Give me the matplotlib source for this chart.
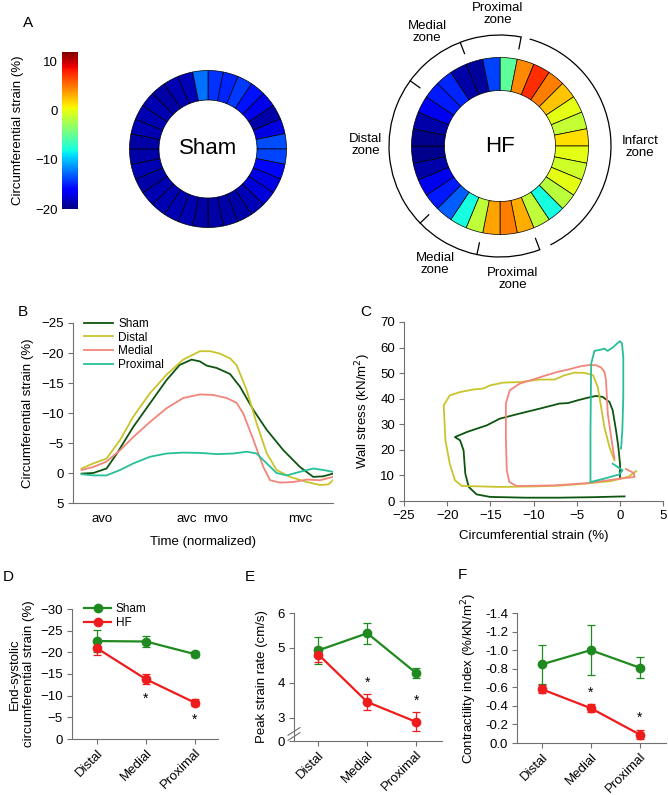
import numpy as np
import matplotlib
matplotlib.use("Agg")
import matplotlib.pyplot as plt
from matplotlib import cm, colors
from matplotlib.lines import Line2D
from matplotlib.patches import Wedge, Arc

plt.rcParams['font.family'] = ['Liberation Sans', 'DejaVu Sans']
plt.rcParams['axes.linewidth'] = 0.8

W, H = 668, 795

# =========================
# data
# =========================
# A) segmental end-systolic strain, 32 segments clockwise from 12 o'clock
sham_seg = [-14.4, -14.8, -14.2, -15.4, -17.0, -18.8, -17.2, -13.6,
            -13.8, -15.8, -17.2, -17.4, -18.4, -18.8, -18.8, -19.0,
            -19.0, -18.6, -18.6, -18.6, -18.6, -18.8, -18.6, -18.8,
            -19.0, -18.6, -18.6, -18.6, -19.0, -18.6, -18.4, -12.4]
hf_seg = [-5.2, 4.4, 7.6, 4.8, 2.4, 0.0, -1.2, 1.6,
          0.0, -0.8, 0.0, -1.6, -8.0, -1.4, 3.2, 4.8,
          3.6, -1.4, -8.0, -13.1, -15.2, -16.8, -18.8, -19.6,
          -19.6, -18.8, -16.8, -15.2, -14.8, -18.8, -19.2, -14.0]
zone_ticks = [79, 111, 144, 224, 258, 291]   # deg, boundaries on the outer arc
zone_labels = ["Proximal\nzone", "Medial\nzone", "Distal\nzone", "Infarct\nzone",
               "Medial\nzone", "Proximal\nzone"]

# B) strain vs normalized time
t_sham = [0.033, 0.078, 0.129, 0.168, 0.232, 0.296, 0.36, 0.41, 0.456, 0.488, 0.514,
          0.553, 0.604, 0.642, 0.694, 0.745, 0.809, 0.873, 0.924, 0.963, 1.0]
s_sham = [0.1, 0.0, -0.75, -3.2, -7.7, -11.6, -15.5, -18.0, -18.9, -18.6, -17.9,
          -17.5, -16.5, -14.4, -10.5, -7.2, -3.8, -1.0, 0.65, 0.55, 0.1]
t_distal = [0.033, 0.078, 0.129, 0.181, 0.232, 0.296, 0.36, 0.424, 0.488, 0.527, 0.565,
            0.604, 0.629, 0.668, 0.706, 0.745, 0.783, 0.835, 0.899, 0.95, 0.982, 1.0]
s_distal = [-0.75, -1.6, -2.4, -5.5, -9.4, -13.3, -16.4, -18.9, -20.3, -20.3, -19.9,
            -19.1, -18.0, -13.8, -8.3, -3.3, -0.5, 0.65, 1.5, 2.0, 1.9, 1.2]
t_medial = [0.033, 0.078, 0.129, 0.181, 0.232, 0.296, 0.36, 0.424, 0.488, 0.54, 0.591,
            0.629, 0.655, 0.694, 0.732, 0.758, 0.796, 0.847, 0.899, 0.95, 1.0]
s_medial = [-0.5, -1.0, -1.9, -3.8, -6.0, -8.5, -10.8, -12.5, -13.1, -13.0, -12.5,
            -11.7, -9.9, -5.5, -1.0, 1.2, 1.6, 1.5, 1.1, 1.2, 0.65]
t_prox = [0.033, 0.078, 0.129, 0.181, 0.232, 0.296, 0.36, 0.424, 0.488, 0.553, 0.617,
          0.668, 0.706, 0.745, 0.783, 0.822, 0.873, 0.924, 0.963, 1.0]
s_prox = [0.2, 0.4, 0.4, -0.5, -1.6, -2.7, -3.25, -3.4, -3.35, -3.15, -3.25,
          -3.55, -3.25, -1.6, 0.0, 0.4, -0.2, -0.75, -0.5, -0.2]
event_pos = [0.11, 0.437, 0.55, 0.873]
event_lab = ["avo", "avc", "mvo", "mvc"]

# C) stress-strain loops
c_sham_x = [0.55, -3.0, -7.0, -11.0, -15.05, -16.6, -17.5, -17.9, -18.1, -18.5, -19.1,
            -17.7, -15.4, -13.9, -11.6, -9.3, -7.0, -6.0, -4.87, -3.7, -2.75, -1.98,
            -1.2, -0.83, -0.44, -0.17, 0.02, 0.02]
c_sham_y = [1.8, 1.5, 1.3, 1.3, 1.6, 2.6, 5.5, 10.7, 19.8, 23.7, 25.0,
            27.0, 29.6, 32.2, 34.2, 36.1, 38.1, 38.3, 39.4, 40.4, 41.1, 40.7,
            38.7, 35.5, 27.6, 21.1, 14.6, 8.8]
c_distal_x = [1.9, 1.0, -1.0, -4.0, -7.0, -10.0, -13.9, -18.3, -19.1, -19.7, -20.2, -20.4,
              -19.7, -18.5, -17.0, -15.8, -15.05, -13.5, -11.6, -9.3, -7.55, -6.4, -5.25,
              -4.1, -3.1, -2.56, -2.17, -1.79, -1.2, -0.63]
c_distal_y = [11.7, 9.5, 7.8, 6.8, 6.0, 5.7, 5.5, 5.9, 8.1, 14.6, 23.7, 37.4,
              41.3, 42.6, 43.6, 44.0, 45.2, 46.3, 46.5, 47.5, 47.5, 49.2, 50.2,
              50.1, 49.2, 44.6, 36.8, 28.9, 21.1, 15.9]
c_medial_x = [0.7, 1.6, 1.7, 0.1, -3.7, -7.6, -11.0, -12.0, -12.8, -13.1, -13.2, -13.2,
              -12.75, -11.6, -10.06, -8.5, -7.2, -6.0, -4.5, -3.5, -2.75, -2.17, -1.79,
              -1.6, -1.4, -1.0, -0.63]
c_medial_y = [12.5, 11.0, 9.4, 8.8, 7.0, 6.1, 5.9, 5.9, 7.5, 12.0, 25.0, 38.1,
              43.3, 45.9, 47.5, 49.2, 50.5, 51.4, 52.7, 53.2, 53.1, 52.2, 50.5,
              47.2, 34.2, 25.0, 16.6]
c_prox_x = [-0.83, -0.25, 0.32, -0.06, -1.79, -3.4, -3.4, -3.32, -2.94, -2.17, -1.79,
            -1.41, -0.83, -0.25, 0.02, 0.25, 0.4, 0.4, 0.29, 0.14]
c_prox_y = [14.6, 13.3, 12.0, 10.4, 8.76, 7.4, 27.6, 53.7, 58.7, 59.2, 59.6,
            58.7, 60.0, 61.8, 62.5, 61.6, 56.3, 40.7, 27.6, 20.5]

# D/E/F) regional summaries, mean and SEM
regions = ["Distal", "Medial", "Proximal"]
d_sham, d_sham_err = [-22.6, -22.5, -19.6], [2.6, 1.35, 0.65]
d_hf, d_hf_err = [-20.9, -13.8, -8.4], [1.6, 1.15, 0.8]
d_star = [(1, -9.2), (2, -4.5)]
e_sham, e_sham_err = [4.93, 5.42, 4.28], [0.38, 0.3, 0.15]
e_hf, e_hf_err = [4.81, 3.45, 2.88], [0.22, 0.23, 0.27]
e_star = [(1, 3.99), (2, 3.48)]
f_sham, f_sham_err = [-0.846, -1.0, -0.81], [0.21, 0.27, 0.115]
f_hf, f_hf_err = [-0.58, -0.375, -0.09], [0.04, 0.045, 0.05]
f_star = [(1, -0.54), (2, -0.27)]

# =========================
# colours
# =========================
C_SHAM = "#0d560f"
C_DIST = "#c9c42c"
C_MED = "#f2857c"
C_PROX = "#27bf98"
G_SHAM = "#1f8a1f"
R_HF = "#ee1c1c"
SPINE = "#707070"
TICK_FS = 9.5
LAB_FS = 9.5

cmap = plt.get_cmap("jet")
norm = colors.Normalize(vmin=-20, vmax=12)

fig = plt.figure(figsize=(W / 100, H / 100), dpi=100)


def add_ax(x0, y0, x1, y1):
    # pixel box (top-left origin) -> figure fraction
    return fig.add_axes([x0 / W, 1 - y1 / H, (x1 - x0) / W, (y1 - y0) / H])


def style(ax):
    for s in ["top", "right"]:
        ax.spines[s].set_visible(False)
    for s in ["left", "bottom"]:
        ax.spines[s].set_color(SPINE)
    ax.tick_params(direction="out", length=3.5, width=0.8, color=SPINE,
                   labelsize=TICK_FS, pad=3)


# =========================
# A) rings
# =========================
axA = add_ax(0, 0, W, 300)
axA.set_xlim(0, W)
axA.set_ylim(0, 300)   # y up, so py -> 300 - py
axA.axis("off")


def ring(cx, cy, r_out, r_in, vals):
    step = 360 / len(vals)
    for i, v in enumerate(vals):
        t2 = 90 - i * step
        axA.add_patch(Wedge((cx, cy), r_out, t2 - step, t2, width=r_out - r_in,
                            facecolor=cmap(norm(v)), edgecolor="black", lw=0.5))


ring(208, 300 - 149, 78.5, 49, sham_seg)
axA.text(208, 300 - 149, "Sham", ha="center", va="center", fontsize=16)

hx, hy = 500, 300 - 146
ring(hx, hy, 88.5, 55.5, hf_seg)
axA.text(hx, hy, "HF", ha="center", va="center", fontsize=16)

R_ARC = 111
axA.add_patch(Arc((hx, hy), 2 * R_ARC, 2 * R_ARC, theta1=zone_ticks[0],
                  theta2=zone_ticks[-1], lw=0.9))
axA.add_patch(Arc((hx, hy), 2 * R_ARC, 2 * R_ARC, theta1=-63, theta2=74.5, lw=0.9))
for a in zone_ticks:
    ca, sa = np.cos(np.deg2rad(a)), np.sin(np.deg2rad(a))
    axA.plot([hx + R_ARC * ca, hx + (R_ARC - 12) * ca],
             [hy + R_ARC * sa, hy + (R_ARC - 12) * sa], color="black", lw=0.9)

zone_xy = [(498, 14), (427, 32), (366, 145), (640, 147), (435, 264), (513, 279)]
for (zx, zy), lab in zip(zone_xy, zone_labels):
    axA.text(zx, 300 - zy, lab, ha="center", va="center", fontsize=9.5, linespacing=1.1)

axA.text(28, 300 - 23, "A", ha="center", va="center", fontsize=11)

cax = add_ax(62, 52, 78, 209)
cb = fig.colorbar(cm.ScalarMappable(norm=norm, cmap=cmap), cax=cax)
cb.outline.set_visible(False)
cb.set_ticks([-20, -10, 0, 10])
cax.yaxis.set_ticks_position("left")
cax.yaxis.set_label_position("left")
cax.tick_params(length=0, labelsize=9.5, pad=3)
cb.set_label("Circumferential strain (%)", fontsize=9.5, labelpad=8)

# =========================
# B) strain curves
# =========================
axB = add_ax(73, 323, 333, 503)
style(axB)
axB.plot(t_sham, s_sham, color=C_SHAM, lw=1.3, label="Sham")
axB.plot(t_distal, s_distal, color=C_DIST, lw=1.3, label="Distal")
axB.plot(t_medial, s_medial, color=C_MED, lw=1.3, label="Medial")
axB.plot(t_prox, s_prox, color=C_PROX, lw=1.3, label="Proximal")
axB.set_xlim(0, 1)
axB.set_ylim(5, -25)
axB.set_yticks([-25, -20, -15, -10, -5, 0, 5])
axB.set_xticks(event_pos)
axB.set_xticklabels(event_lab)
axB.tick_params(axis="x", length=0, pad=7)
axB.set_xlabel("Time (normalized)", fontsize=LAB_FS, labelpad=8)
axB.set_ylabel("Circumferential strain (%)", fontsize=LAB_FS, labelpad=5)
axB.legend(loc="upper left", bbox_to_anchor=(0.025, 1.055), frameon=False, fontsize=8.5,
           handlelength=2.4, handletextpad=0.5, labelspacing=0.15, borderaxespad=0)
fig.text(23 / W, 1 - 312 / H, "B", ha="center", va="center", fontsize=11)

# =========================
# C) stress-strain loops
# =========================
axC = add_ax(404, 322, 663, 501)
style(axC)
axC.plot(c_sham_x, c_sham_y, color=C_SHAM, lw=1.3)
axC.plot(c_distal_x, c_distal_y, color=C_DIST, lw=1.3)
axC.plot(c_medial_x, c_medial_y, color=C_MED, lw=1.3)
axC.plot(c_prox_x, c_prox_y, color=C_PROX, lw=1.3)
axC.set_xlim(-25, 5)
axC.set_ylim(0, 70)
axC.set_xticks(range(-25, 6, 5))
axC.set_yticks(range(0, 71, 10))
axC.set_xlabel("Circumferential strain (%)", fontsize=LAB_FS, labelpad=6)
axC.set_ylabel("Wall stress (kN/m$^2$)", fontsize=LAB_FS, labelpad=5)
fig.text(366 / W, 1 - 312 / H, "C", ha="center", va="center", fontsize=11)

# =========================
# D/E/F) regional summaries
# =========================
xpos = np.arange(len(regions))


def summary(ax, sham, sham_err, hf, hf_err, stars):
    style(ax)
    ax.errorbar(xpos, sham, yerr=sham_err, fmt="-o", color=G_SHAM, ms=6, lw=1.6,
                elinewidth=0.9, capsize=3, capthick=0.9)
    ax.errorbar(xpos, hf, yerr=hf_err, fmt="-o", color=R_HF, ms=6, lw=1.6,
                elinewidth=0.9, capsize=3, capthick=0.9)
    for sx, sy in stars:
        ax.text(sx, sy, "*", ha="center", va="center", fontsize=10)
    ax.set_xticks(xpos)
    ax.set_xticklabels(regions, rotation=45, ha="right", rotation_mode="anchor")
    ax.tick_params(axis="x", pad=2)


axD = add_ax(72, 609, 218, 739)
summary(axD, d_sham, d_sham_err, d_hf, d_hf_err, d_star)
axD.set_xlim(-0.52, 2.48)
axD.set_ylim(0, -30)
axD.set_yticks(range(0, -31, -5))
axD.set_ylabel("End-systolic\ncircumferential strain (%)", fontsize=LAB_FS, labelpad=4)
leg_handles = [Line2D([], [], color=G_SHAM, lw=1.6, marker="o", ms=6),
               Line2D([], [], color=R_HF, lw=1.6, marker="o", ms=6)]
axD.legend(leg_handles, ["Sham", "HF"], loc="upper left", bbox_to_anchor=(0.05, 1.085),
           frameon=False, fontsize=8.5, handlelength=2.3, handletextpad=0.4,
           labelspacing=0.2, borderaxespad=0)
fig.text(8 / W, 1 - 577 / H, "D", ha="center", va="center", fontsize=11)

axE = add_ax(294, 613, 442, 741)
summary(axE, e_sham, e_sham_err, e_hf, e_hf_err, e_star)
brk = 3 - 23.3 / 34.9   # broken axis: 0 drawn just below 3
axE.set_xlim(-0.5, 2.53)
axE.set_ylim(brk, 6)
axE.set_yticks([brk, 3, 4, 5, 6])
axE.set_yticklabels(["0", "3", "4", "5", "6"])
for dy in (0.035, 0.075):
    axE.plot([-0.04, 0.04], [dy - 0.03, dy + 0.03], transform=axE.transAxes,
             color=SPINE, lw=0.8, clip_on=False)
axE.set_ylabel("Peak strain rate (cm/s)", fontsize=LAB_FS, labelpad=7)
fig.text(250 / W, 1 - 577 / H, "E", ha="center", va="center", fontsize=11)

axF = add_ax(517, 613, 666, 743)
summary(axF, f_sham, f_sham_err, f_hf, f_hf_err, f_star)
axF.set_xlim(-0.5, 2.53)
axF.set_ylim(0, -1.4)
axF.set_yticks(np.arange(0, -1.41, -0.2))
axF.yaxis.set_major_formatter(matplotlib.ticker.FormatStrFormatter("%.1f"))
axF.set_ylabel("Contractility index (%/kN/m$^2$)", fontsize=LAB_FS, labelpad=4)
fig.text(462 / W, 1 - 575 / H, "F", ha="center", va="center", fontsize=11)

fig.savefig("out.png", dpi=100)
